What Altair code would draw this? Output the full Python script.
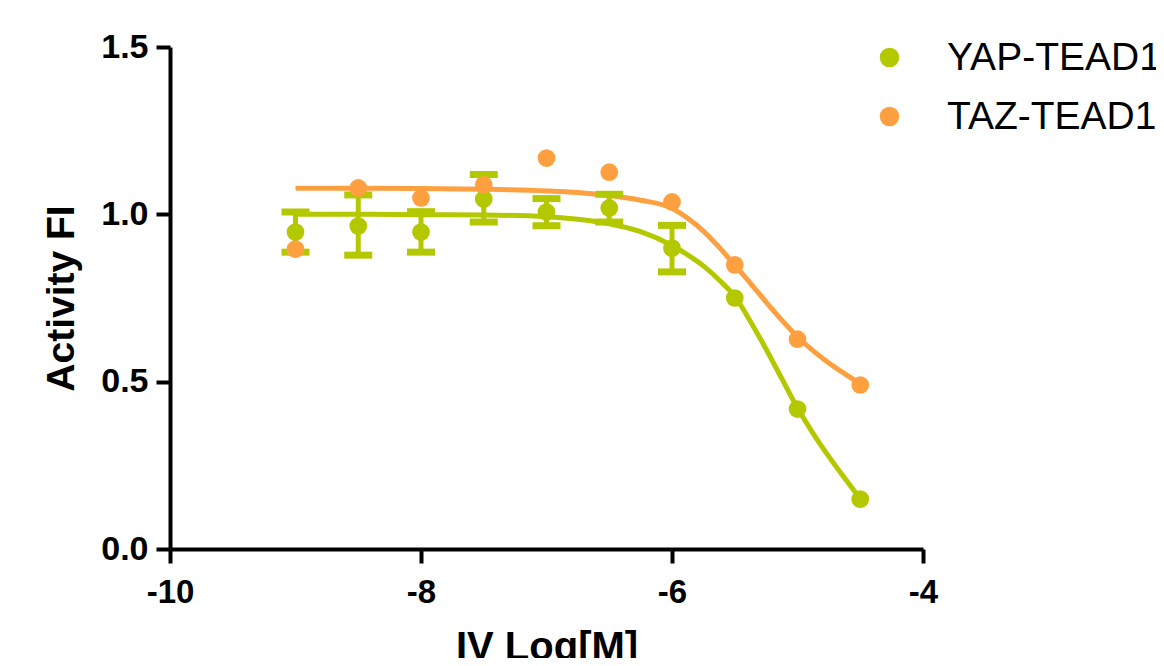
import altair as alt
import pandas as pd

# ---- data ----
series = ["YAP-TEAD1", "TAZ-TEAD1"]
colors = ["#b4c800", "#ffa040"]

x_pts = [-9, -8.5, -8, -7.5, -7, -6.5, -6, -5.5, -5, -4.5]
yap = [0.947, 0.965, 0.947, 1.046, 1.007, 1.019, 0.899, 0.750, 0.418, 0.149]
taz = [0.896, 1.079, 1.049, 1.088, 1.168, 1.126, 1.037, 0.849, 0.627, 0.490]

x_err = [-9, -8.5, -8, -7.5, -7, -6.5, -6]
yap_lo = [0.887, 0.878, 0.887, 0.977, 0.966, 0.977, 0.828]
yap_hi = [1.007, 1.058, 1.008, 1.119, 1.047, 1.060, 0.967]

x_curve = [-9, -8.5, -8, -7.5, -7, -6.75, -6.5, -6.25, -6, -5.875, -5.75, -5.625, -5.5,
           -5.375, -5.25, -5.125, -5, -4.875, -4.75, -4.625, -4.5]
yap_curve = [1.000, 1.000, 0.999, 0.998, 0.993, 0.985, 0.972, 0.948, 0.907, 0.879, 0.846, 0.804, 0.755,
             0.680, 0.597, 0.509, 0.421, 0.345, 0.276, 0.212, 0.150]
taz_curve = [1.078, 1.078, 1.077, 1.075, 1.070, 1.065, 1.056, 1.042, 1.018, 0.988, 0.950, 0.902, 0.848,
             0.794, 0.738, 0.684, 0.634, 0.592, 0.556, 0.524, 0.494]

x_ticks = [-10, -8, -6, -4]
y_ticks = [0, 0.5, 1.0, 1.5]

# ---- tables ----
pts = pd.DataFrame({
    "x": x_pts + x_pts,
    "y": yap + taz,
    "s": [series[0]] * len(x_pts) + [series[1]] * len(x_pts),
    "o": [0] * len(x_pts) + [1] * len(x_pts),
})
curve = pd.DataFrame({
    "x": x_curve + x_curve,
    "y": yap_curve + taz_curve,
    "s": [series[0]] * len(x_curve) + [series[1]] * len(x_curve),
})
err = pd.DataFrame({"x": x_err, "lo": yap_lo, "hi": yap_hi, "s": [series[0]] * len(x_err)})

xs = alt.Scale(domain=[-10, -4], nice=False, zero=False)
ys = alt.Scale(domain=[0, 1.5], nice=False, zero=False)

x_axis = alt.Axis(values=x_ticks, labelExpr="datum.value + ''", title="IV Log[M]",
                  labelFlush=False, labelOverlap=False,
                  labelFontSize=33, labelPadding=13, titlePadding=18, titleFontSize=40)
y_axis = alt.Axis(values=y_ticks, format=".1f", title="Activity FI",
                  labelFontSize=34, labelPadding=8, titlePadding=19, titleFontSize=39)

def X(field="x"):
    return alt.X(f"{field}:Q", scale=xs, axis=x_axis)

def Y(field="y"):
    return alt.Y(f"{field}:Q", scale=ys, axis=y_axis)

legend = alt.Legend(title=None, orient="none", legendX=700, legendY=-9,
                    symbolType="circle", symbolSize=380, symbolStrokeWidth=0,
                    symbolOpacity=1, labelFontSize=39,
                    labelFont="Liberation Sans", labelFontWeight="normal",
                    labelColor="black", labelOffset=38, rowPadding=19,
                    padding=0, labelLimit=400)
color = alt.Color("s:N", scale=alt.Scale(domain=series, range=colors), sort=series, legend=legend)

lines = alt.Chart(curve).mark_line(strokeWidth=5, interpolate="monotone").encode(
    x=X(), y=Y(), color=color)

bars = alt.Chart(err).mark_rule(strokeWidth=5).encode(
    x=X(), y=Y("lo"), y2="hi:Q", color=color)
cap_lo = alt.Chart(err).mark_tick(orient="horizontal", size=28, thickness=7, opacity=1).encode(
    x=X(), y=Y("lo"), color=color)
cap_hi = alt.Chart(err).mark_tick(orient="horizontal", size=28, thickness=7, opacity=1).encode(
    x=X(), y=Y("hi"), color=color)

points = alt.Chart(pts).mark_circle(size=314, opacity=1).encode(
    x=X(), y=Y(), color=color, order=alt.Order("o:Q"))

chart = alt.layer(lines, bars, cap_lo, cap_hi, points).properties(
    width=753, height=502,
    autosize=alt.AutoSizeParams(type="none"),
    padding={"left": 162, "top": 39, "right": 233, "bottom": 109},
).configure_view(stroke=None).configure_axis(
    grid=False,
    domainColor="black", domainWidth=4,
    tickColor="black", tickWidth=4, tickSize=14,
    labelFont="Liberation Sans", labelFontWeight="bold", labelColor="black",
    titleFont="Liberation Sans", titleFontWeight="bold", titleColor="black",
)

chart.save("out.html", embed_options={"renderer": "svg", "actions": False})
